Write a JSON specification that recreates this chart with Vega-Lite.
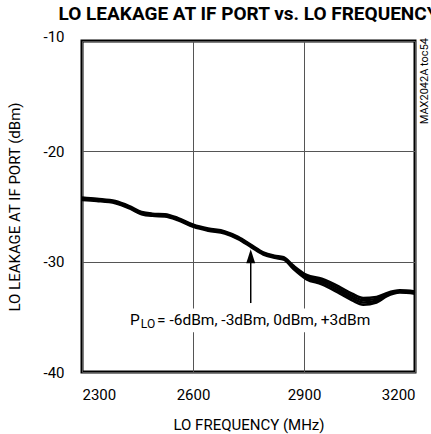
{
  "$schema": "https://vega.github.io/schema/vega-lite/v6.json",
  "width": 333,
  "height": 331,
  "autosize": "none",
  "padding": {"left": 82, "top": 41, "right": 16, "bottom": 62},
  "background": "white",
  "title": {
    "text": "LO LEAKAGE AT IF PORT vs. LO FREQUENCY",
    "font": "Roboto",
    "fontSize": 19,
    "fontWeight": "bold",
    "color": "black",
    "anchor": "middle",
    "offset": 5
  },
  "config": {
    "view": {"stroke": "black", "strokeWidth": 3},
    "font": "Roboto",
    "axis": {
      "labelFont": "Roboto",
      "titleFont": "Roboto",
      "labelColor": "black",
      "titleColor": "black",
      "titleFontWeight": "normal",
      "gridColor": "#555555",
      "gridWidth": 1,
      "gridOpacity": 1,
      "ticks": false,
      "domain": false
    }
  },
  "datasets": {
    "curves": [
      {"f": 2300, "v": -24.18, "p": "-6dBm"}, {"f": 2300, "v": -24.26, "p": "-3dBm"}, {"f": 2300, "v": -24.34, "p": "0dBm"}, {"f": 2300, "v": -24.42, "p": "+3dBm"},
      {"f": 2340, "v": -24.30, "p": "-6dBm"}, {"f": 2340, "v": -24.37, "p": "-3dBm"}, {"f": 2340, "v": -24.43, "p": "0dBm"}, {"f": 2340, "v": -24.50, "p": "+3dBm"},
      {"f": 2390, "v": -24.50, "p": "-6dBm"}, {"f": 2390, "v": -24.57, "p": "-3dBm"}, {"f": 2390, "v": -24.63, "p": "0dBm"}, {"f": 2390, "v": -24.70, "p": "+3dBm"},
      {"f": 2430, "v": -25.00, "p": "-6dBm"}, {"f": 2430, "v": -25.07, "p": "-3dBm"}, {"f": 2430, "v": -25.13, "p": "0dBm"}, {"f": 2430, "v": -25.20, "p": "+3dBm"},
      {"f": 2461, "v": -25.50, "p": "-6dBm"}, {"f": 2461, "v": -25.57, "p": "-3dBm"}, {"f": 2461, "v": -25.63, "p": "0dBm"}, {"f": 2461, "v": -25.70, "p": "+3dBm"},
      {"f": 2490, "v": -25.65, "p": "-6dBm"}, {"f": 2490, "v": -25.72, "p": "-3dBm"}, {"f": 2490, "v": -25.78, "p": "0dBm"}, {"f": 2490, "v": -25.85, "p": "+3dBm"},
      {"f": 2524, "v": -25.70, "p": "-6dBm"}, {"f": 2524, "v": -25.77, "p": "-3dBm"}, {"f": 2524, "v": -25.83, "p": "0dBm"}, {"f": 2524, "v": -25.90, "p": "+3dBm"},
      {"f": 2560, "v": -26.05, "p": "-6dBm"}, {"f": 2560, "v": -26.12, "p": "-3dBm"}, {"f": 2560, "v": -26.18, "p": "0dBm"}, {"f": 2560, "v": -26.25, "p": "+3dBm"},
      {"f": 2601, "v": -26.65, "p": "-6dBm"}, {"f": 2601, "v": -26.72, "p": "-3dBm"}, {"f": 2601, "v": -26.78, "p": "0dBm"}, {"f": 2601, "v": -26.85, "p": "+3dBm"},
      {"f": 2641, "v": -27.00, "p": "-6dBm"}, {"f": 2641, "v": -27.07, "p": "-3dBm"}, {"f": 2641, "v": -27.13, "p": "0dBm"}, {"f": 2641, "v": -27.20, "p": "+3dBm"},
      {"f": 2686, "v": -27.25, "p": "-6dBm"}, {"f": 2686, "v": -27.32, "p": "-3dBm"}, {"f": 2686, "v": -27.38, "p": "0dBm"}, {"f": 2686, "v": -27.45, "p": "+3dBm"},
      {"f": 2722, "v": -27.75, "p": "-6dBm"}, {"f": 2722, "v": -27.82, "p": "-3dBm"}, {"f": 2722, "v": -27.88, "p": "0dBm"}, {"f": 2722, "v": -27.95, "p": "+3dBm"},
      {"f": 2758, "v": -28.50, "p": "-6dBm"}, {"f": 2758, "v": -28.57, "p": "-3dBm"}, {"f": 2758, "v": -28.63, "p": "0dBm"}, {"f": 2758, "v": -28.70, "p": "+3dBm"},
      {"f": 2790, "v": -29.15, "p": "-6dBm"}, {"f": 2790, "v": -29.22, "p": "-3dBm"}, {"f": 2790, "v": -29.28, "p": "0dBm"}, {"f": 2790, "v": -29.35, "p": "+3dBm"},
      {"f": 2820, "v": -29.45, "p": "-6dBm"}, {"f": 2820, "v": -29.52, "p": "-3dBm"}, {"f": 2820, "v": -29.58, "p": "0dBm"}, {"f": 2820, "v": -29.65, "p": "+3dBm"},
      {"f": 2845, "v": -29.60, "p": "-6dBm"}, {"f": 2845, "v": -29.67, "p": "-3dBm"}, {"f": 2845, "v": -29.73, "p": "0dBm"}, {"f": 2845, "v": -29.80, "p": "+3dBm"},
      {"f": 2871, "v": -30.35, "p": "-6dBm"}, {"f": 2871, "v": -30.45, "p": "-3dBm"}, {"f": 2871, "v": -30.55, "p": "0dBm"}, {"f": 2871, "v": -30.65, "p": "+3dBm"},
      {"f": 2907, "v": -31.20, "p": "-6dBm"}, {"f": 2907, "v": -31.33, "p": "-3dBm"}, {"f": 2907, "v": -31.47, "p": "0dBm"}, {"f": 2907, "v": -31.60, "p": "+3dBm"},
      {"f": 2948, "v": -31.55, "p": "-6dBm"}, {"f": 2948, "v": -31.72, "p": "-3dBm"}, {"f": 2948, "v": -31.88, "p": "0dBm"}, {"f": 2948, "v": -32.05, "p": "+3dBm"},
      {"f": 2997, "v": -32.30, "p": "-6dBm"}, {"f": 2997, "v": -32.50, "p": "-3dBm"}, {"f": 2997, "v": -32.70, "p": "0dBm"}, {"f": 2997, "v": -32.90, "p": "+3dBm"},
      {"f": 3030, "v": -32.90, "p": "-6dBm"}, {"f": 3030, "v": -33.10, "p": "-3dBm"}, {"f": 3030, "v": -33.30, "p": "0dBm"}, {"f": 3030, "v": -33.50, "p": "+3dBm"},
      {"f": 3060, "v": -33.30, "p": "-6dBm"}, {"f": 3060, "v": -33.50, "p": "-3dBm"}, {"f": 3060, "v": -33.70, "p": "0dBm"}, {"f": 3060, "v": -33.90, "p": "+3dBm"},
      {"f": 3096, "v": -33.20, "p": "-6dBm"}, {"f": 3096, "v": -33.37, "p": "-3dBm"}, {"f": 3096, "v": -33.53, "p": "0dBm"}, {"f": 3096, "v": -33.70, "p": "+3dBm"},
      {"f": 3123, "v": -32.85, "p": "-6dBm"}, {"f": 3123, "v": -32.95, "p": "-3dBm"}, {"f": 3123, "v": -33.05, "p": "0dBm"}, {"f": 3123, "v": -33.15, "p": "+3dBm"},
      {"f": 3159, "v": -32.60, "p": "-6dBm"}, {"f": 3159, "v": -32.67, "p": "-3dBm"}, {"f": 3159, "v": -32.73, "p": "0dBm"}, {"f": 3159, "v": -32.80, "p": "+3dBm"},
      {"f": 3200, "v": -32.70, "p": "-6dBm"}, {"f": 3200, "v": -32.77, "p": "-3dBm"}, {"f": 3200, "v": -32.83, "p": "0dBm"}, {"f": 3200, "v": -32.90, "p": "+3dBm"}
    ]
  },
  "layer": [
    {
      "data": {"values": [{"x1": 2425, "x2": 3085, "y1": -34.25, "y2": -36.4}]},
      "mark": {"type": "rect", "color": "white"},
      "encoding": {
        "x": {"field": "x1", "type": "quantitative", "scale": {"domain": [2300, 3200], "nice": false, "zero": false},
          "axis": {"values": [2300, 2600, 2900, 3200], "labelExpr": "'' + datum.value", "grid": true, "labelFontSize": 15, "labelPadding": 15, "title": "LO FREQUENCY (MHz)", "titleFontSize": 15, "titlePadding": 15}},
        "x2": {"field": "x2"},
        "y": {"field": "y1", "type": "quantitative", "scale": {"domain": [-40, -10], "nice": false, "zero": false},
          "axis": {"values": [-40, -30, -20, -10], "labelExpr": "'' + datum.value", "grid": true, "labelFontSize": 15, "labelPadding": 18,
            "labelBaseline": {"condition": {"test": "datum.value == -10", "value": "alphabetic"}, "value": "middle"},
            "title": "LO LEAKAGE AT IF PORT (dBm)", "titleFontSize": 15, "titlePadding": 20}},
        "y2": {"field": "y2"}
      }
    },
    {
      "data": {"name": "curves"},
      "mark": {"type": "line", "color": "black", "strokeWidth": 2.5, "interpolate": "monotone"},
      "encoding": {
        "x": {"field": "f", "type": "quantitative"},
        "y": {"field": "v", "type": "quantitative"},
        "detail": {"field": "p", "type": "nominal"}
      }
    },
    {
      "data": {"values": [{"x": 2756, "y1": -30.0, "y2": -33.75}]},
      "mark": {"type": "rule", "color": "black", "strokeWidth": 1.5},
      "encoding": {
        "x": {"field": "x", "type": "quantitative"},
        "y": {"field": "y1", "type": "quantitative"},
        "y2": {"field": "y2"}
      }
    },
    {
      "data": {"values": [{"x": 2756, "y": -29.52}]},
      "mark": {"type": "point", "shape": "M0,-1L0.64,1L-0.64,1Z", "filled": true, "color": "black", "opacity": 1, "size": 196, "strokeWidth": 0},
      "encoding": {
        "x": {"field": "x", "type": "quantitative"},
        "y": {"field": "y", "type": "quantitative"}
      }
    },
    {
      "data": {"values": [
        {"x": 2430, "y": -35.75, "t": "P", "s": 15.5},
        {"x": 2459, "y": -36.02, "t": "LO", "s": 12},
        {"x": 2503, "y": -35.75, "t": "= -6dBm, -3dBm, 0dBm, +3dBm", "s": 15.5}
      ]},
      "mark": {"type": "text", "align": "left", "baseline": "alphabetic", "color": "black", "font": "Roboto"},
      "encoding": {
        "x": {"field": "x", "type": "quantitative"},
        "y": {"field": "y", "type": "quantitative"},
        "text": {"field": "t"},
        "size": {"field": "s", "type": "quantitative", "scale": null}
      }
    },
    {
      "data": {"values": [{"x": 3200, "y": -10, "t": "MAX2042A toc54"}]},
      "mark": {"type": "text", "angle": 270, "align": "right", "baseline": "middle", "dy": 10, "dx": 3, "fontSize": 11, "color": "black", "font": "Roboto"},
      "encoding": {
        "x": {"field": "x", "type": "quantitative"},
        "y": {"field": "y", "type": "quantitative"},
        "text": {"field": "t"}
      }
    }
  ]
}
